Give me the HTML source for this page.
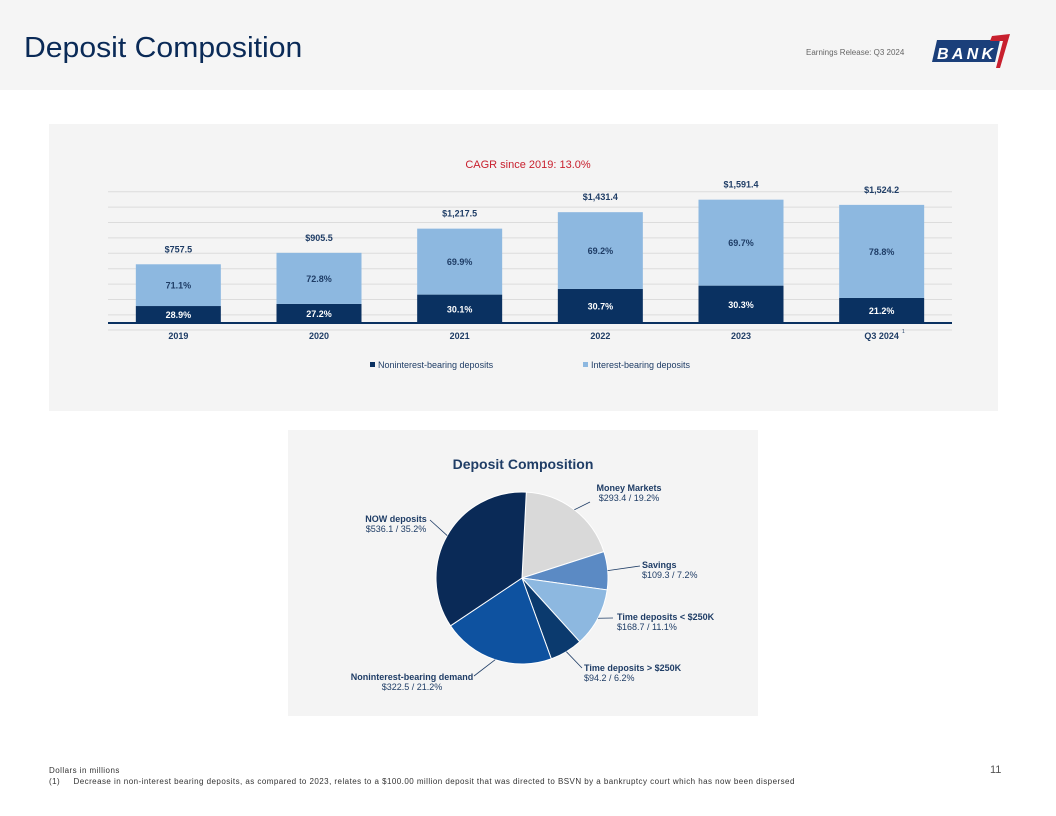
<!DOCTYPE html>
<html><head><meta charset="utf-8"><style>
body{margin:0;width:1056px;height:816px;background:#fff;font-family:"Liberation Sans",sans-serif;position:relative;overflow:hidden}
.abs{position:absolute}
</style></head><body>
<div class="abs" style="left:0;top:0;width:1056px;height:90px;background:#f5f5f5"></div>
<div class="abs" style="left:24px;top:32px;font-size:29px;color:#0a2a57;transform:scaleX(1.04);transform-origin:left">Deposit Composition</div>
<div class="abs" style="left:806px;top:48px;font-size:8px;color:#666">Earnings Release: Q3 2024</div>
<svg class="abs" style="left:930px;top:32px" width="84" height="38">
<polygon points="7,8 70,8 65,30 2,30" fill="#1b3f7a"/>
<text x="7" y="27" font-size="16" font-weight="bold" font-style="italic" fill="#fff" textLength="56">BANK</text>
<polygon points="62,4 80,2 70,36 66,36 73,9 60,9" fill="#c8202e"/>
</svg>
<div class="abs" style="left:49px;top:124px;width:949px;height:287px;background:#f4f4f4"></div>
<div class="abs" style="left:288px;top:430px;width:470px;height:286px;background:#f4f4f4"></div>
<svg class="abs" id="bars" style="left:0;top:0" width="1056" height="420"></svg>
<svg class="abs" id="pie" style="left:0;top:0" width="1056" height="720"></svg>
<div class="abs" style="left:49px;top:765px;font-size:8px;color:#333;line-height:11px;letter-spacing:0.45px">Dollars in millions<br>(1)&nbsp;&nbsp;&nbsp;&nbsp;&nbsp;Decrease in non-interest bearing deposits, as compared to 2023, relates to a $100.00 million deposit that was directed to BSVN by a bankruptcy court which has now been dispersed</div>
<div class="abs" style="left:990px;top:764px;font-size:11px;color:#555">11</div>
<script>
const categories=["2019","2020","2021","2022","2023","Q3 2024"];
const totals=[757.5,905.5,1217.5,1431.4,1591.4,1524.2];
const totalLabels=["$757.5","$905.5","$1,217.5","$1,431.4","$1,591.4","$1,524.2"];
const nonintPct=[28.9,27.2,30.1,30.7,30.3,21.2];
const intPct=[71.1,72.8,69.9,69.2,69.7,78.8];
const pieLabels=["Money Markets","Savings","Time deposits < $250K","Time deposits > $250K","Noninterest-bearing demand","NOW deposits"];
const pieValues=[293.4,109.3,168.7,94.2,322.5,536.1];
const pieValueLabels=["$293.4 / 19.2%","$109.3  / 7.2%","$168.7 / 11.1%","$94.2 / 6.2%","$322.5  / 21.2%","$536.1 / 35.2%"];
const NS="http://www.w3.org/2000/svg";
function mk(p,t,a){const e=document.createElementNS(NS,t);for(const k in a)e.setAttribute(k,a[k]);p.appendChild(e);return e;}
const bs=document.getElementById('bars');
const x0=108,x1=952,base=323,sc=0.0775,band=(x1-x0)/categories.length,bw=85;
const xc=i=>x0+band*(i+0.5), y=v=>base-v*sc;
let t=mk(bs,'text',{x:528,y:168,'font-size':11,fill:'#c8202e','text-anchor':'middle'});t.textContent="CAGR since 2019: 13.0%";

for(let k=0;k<9;k++){const gy=191.7+k*15.4;let g=mk(bs,'line',{x1:x0,x2:x1,y1:gy,y2:gy,stroke:'#dcdcdc','stroke-width':1});
}
mk(bs,'line',{x1:x0,x2:x1,y1:330,y2:330,stroke:'#dcdcdc'});
categories.forEach((c,i)=>{
 const tot=totals[i],n=tot*nonintPct[i]/100,ib=tot*intPct[i]/100,cx=xc(i);
 let r1=mk(bs,'rect',{x:cx-bw/2,y:y(n),width:bw,height:n*sc,fill:'#0a3161'});
 
 let r2=mk(bs,'rect',{x:cx-bw/2,y:y(n+ib),width:bw,height:ib*sc,fill:'#8db8e0'});
 
 let a=mk(bs,'text',{x:cx,y:y(n/2)+3.5,'font-size':9,'font-weight':'bold',fill:'#fff','text-anchor':'middle'});a.textContent=nonintPct[i].toFixed(1)+'%';
 let b=mk(bs,'text',{x:cx,y:y(n+ib/2)+3.5,'font-size':9,'font-weight':'bold',fill:'#1f3d66','text-anchor':'middle'});b.textContent=intPct[i].toFixed(1)+'%';
 let tl=mk(bs,'text',{x:cx,y:y(tot)-12,'font-size':9,'font-weight':'bold',fill:'#1f3d66','text-anchor':'middle'});tl.textContent=totalLabels[i];
 
 let cl=mk(bs,'text',{x:cx,y:339,'font-size':9,'font-weight':'bold',fill:'#1f3d66','text-anchor':'middle'});cl.textContent=c;
 
});
let sup=mk(bs,'text',{x:902,y:333,'font-size':5,fill:'#1f3d66'});sup.textContent="1";
mk(bs,'line',{x1:x0,x2:x1,y1:base,y2:base,stroke:'#0a3161','stroke-width':2});
let l1=mk(bs,'rect',{x:370,y:362,width:5,height:5,fill:'#0a3161'});
t=mk(bs,'text',{x:378,y:368,'font-size':9,fill:'#1f3d66'});t.textContent="Noninterest-bearing deposits";
let l2=mk(bs,'rect',{x:583,y:362,width:5,height:5,fill:'#8db8e0'});
t=mk(bs,'text',{x:591,y:368,'font-size':9,fill:'#1f3d66'});t.textContent="Interest-bearing deposits";
// pie
const ps=document.getElementById('pie');
t=mk(ps,'text',{x:523,y:469,'font-size':14,'font-weight':'bold',fill:'#1f3d66','text-anchor':'middle'});t.textContent="Deposit Composition";

const colors=['#d9d9d9','#5b8ac4','#8db8e0','#0b3a6e','#0e52a0','#0a2a57'];
const cx=522,cy=578,R=86,sum=pieValues.reduce((a,b)=>a+b,0);
// label anchor [x,y,anchor, leader end x, leader end y]
const lab=[[629,491,'middle',590,502],[642,568,'start',640,566],[617,620,'start',613,618],[584,671,'start',582,668],[412,680,'middle',474,676],[396,522,'middle',430,520]];
let ang=-Math.PI/2+0.05;
pieValues.forEach((v,i)=>{
 const a0=ang,a1=ang+v/sum*2*Math.PI;ang=a1;
 const p=(a)=>[cx+R*Math.cos(a),cy+R*Math.sin(a)];
 const [xa,ya]=p(a0),[xb,yb]=p(a1);
 let s=mk(ps,'path',{d:`M${cx},${cy}L${xa},${ya}A${R},${R} 0 ${a1-a0>Math.PI?1:0} 1 ${xb},${yb}Z`,fill:colors[i],stroke:'#fff','stroke-width':1});
 
 const L=lab[i],am=(a0+a1)/2,[ex,ey]=[cx+R*Math.cos(am),cy+R*Math.sin(am)];
 mk(ps,'polyline',{points:`${ex},${ey} ${L[3]},${L[4]}`,fill:'none',stroke:'#1f3d66','stroke-width':0.8});
 let t1=mk(ps,'text',{x:L[0],y:L[1],'font-size':9,'font-weight':'bold',fill:'#1f3d66','text-anchor':L[2]});t1.textContent=pieLabels[i];
 
 let t2=mk(ps,'text',{x:L[0],y:L[1]+10,'font-size':9,fill:'#1f3d66','text-anchor':L[2]});t2.textContent=pieValueLabels[i];
});
</script>
</body></html>
